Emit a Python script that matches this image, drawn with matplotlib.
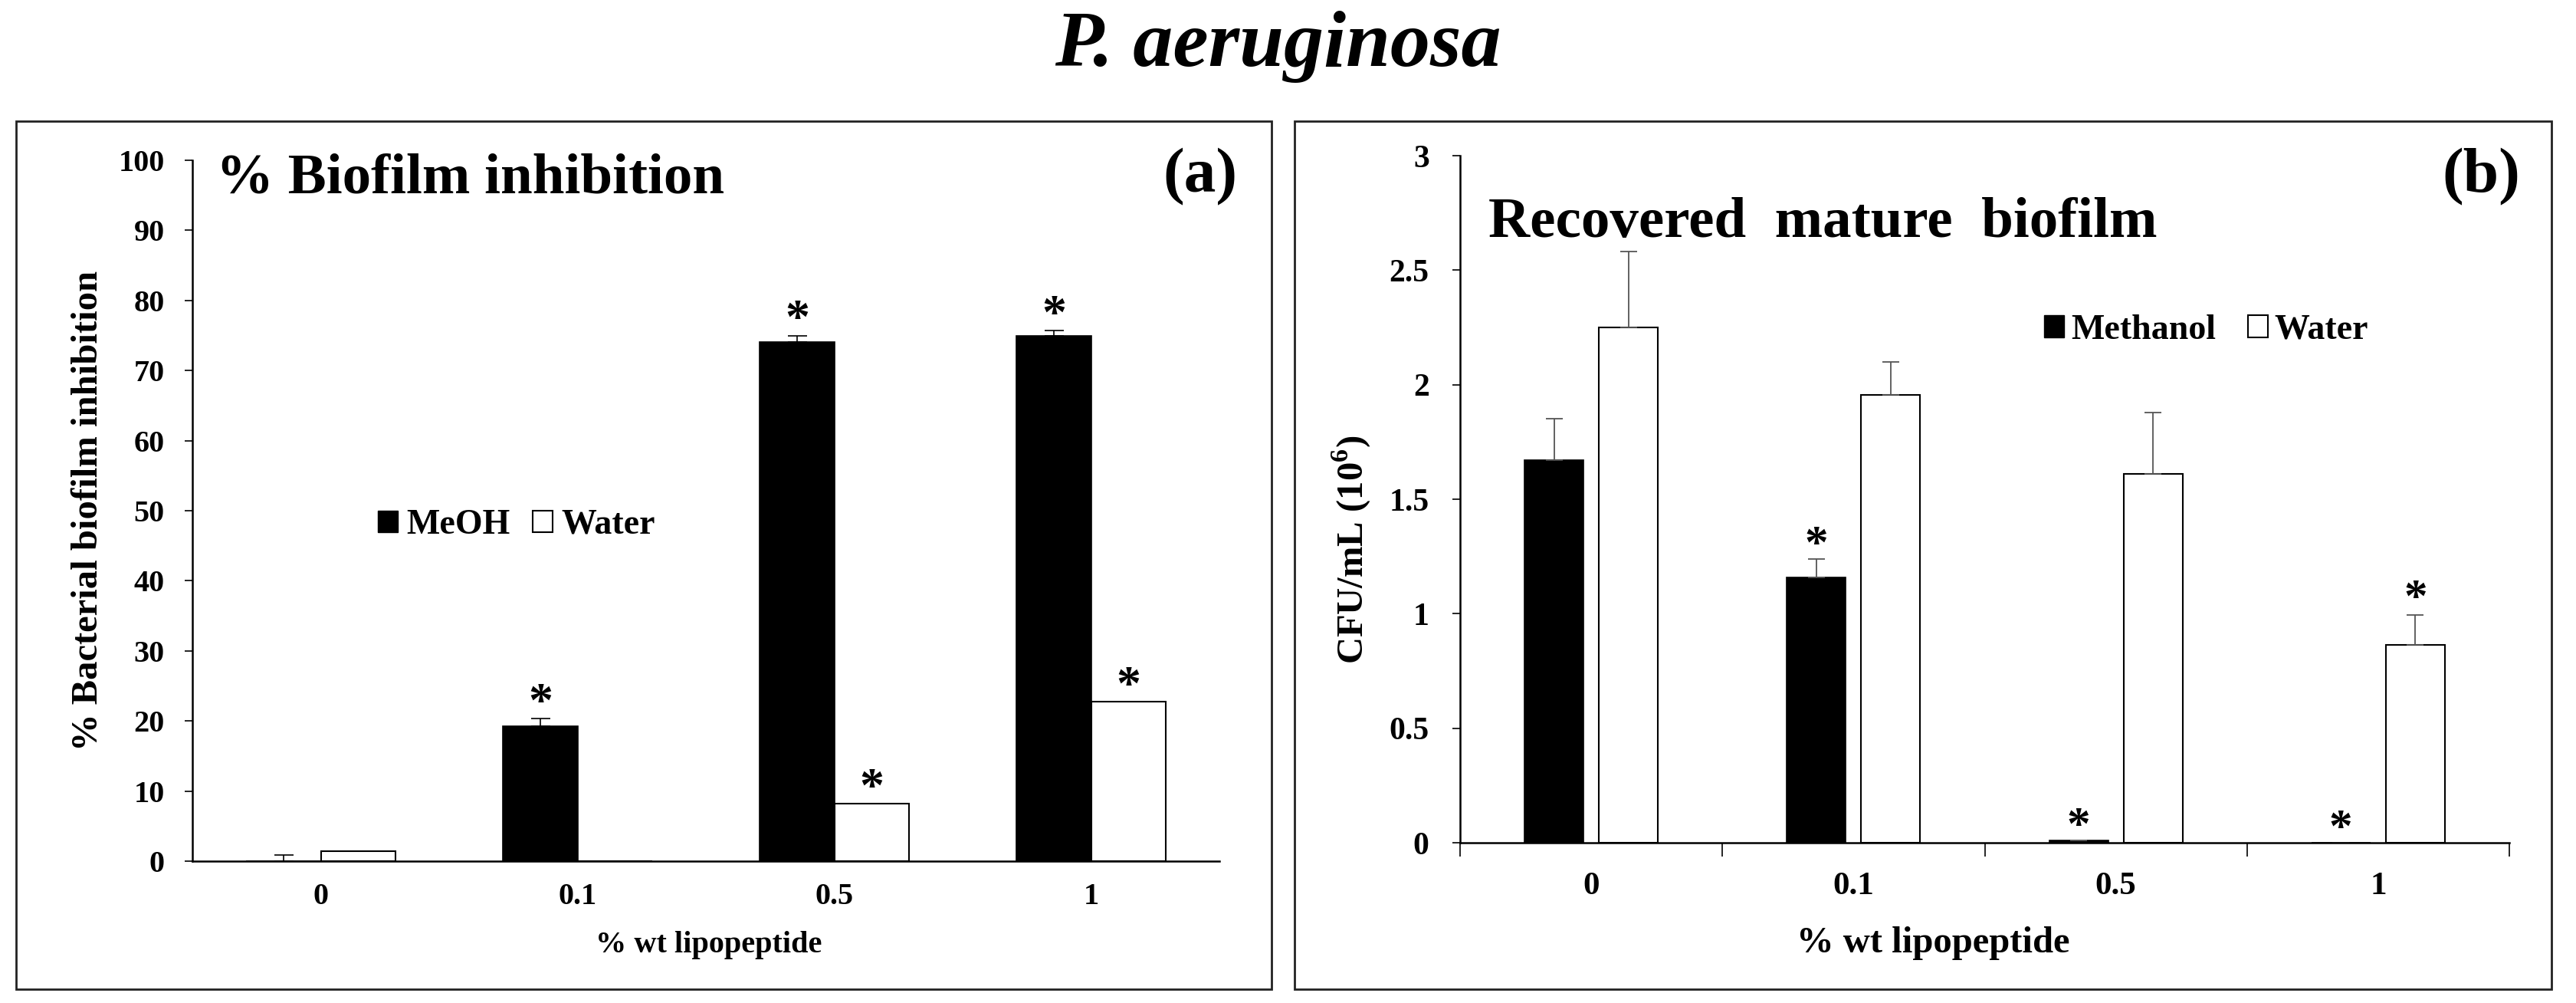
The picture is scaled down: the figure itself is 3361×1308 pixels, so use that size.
import matplotlib
matplotlib.use("Agg")
import matplotlib.pyplot as plt
from matplotlib.patches import Rectangle, Patch
import numpy as np

plt.rcParams['font.family'] = 'serif'
plt.rcParams['font.serif'] = ['Liberation Serif']
plt.rcParams['font.weight'] = 'bold'
plt.rcParams['axes.labelweight'] = 'bold'
plt.rcParams['mathtext.fontset'] = 'custom'
plt.rcParams['mathtext.rm'] = 'Liberation Serif:bold'
plt.rcParams['mathtext.bf'] = 'Liberation Serif:bold'

# data
conc = ['0', '0.1', '0.5', '1']

inhib_meoh = [0.0, 19.3, 74.1, 74.9]
inhib_meoh_err = [0.9, 1.0, 0.9, 0.8]
inhib_water = [1.4, 0.0, 8.2, 22.8]
inhib_meoh_sig = [False, True, True, True]
inhib_water_sig = [False, False, True, True]

cfu_meoh = [1.67, 1.16, 0.01, 0.0]
cfu_meoh_err = [0.18, 0.08, 0.0, 0.0]
cfu_water = [2.25, 1.955, 1.61, 0.865]
cfu_water_err = [0.33, 0.145, 0.27, 0.13]
cfu_meoh_sig = [False, True, True, True]
cfu_water_sig = [False, False, False, True]

W, H = 3361, 1308
fig = plt.figure(figsize=(W / 100, H / 100), dpi=100)


def fx(px):
    return px / W


def fy(py):
    return 1 - py / H


# panel frames
for x0, x1 in [(21, 1659), (1689, 3329)]:
    fig.patches.append(Rectangle((fx(x0), fy(1290)), fx(x1 - x0), (1290 - 158) / H,
                                 transform=fig.transFigure, fill=False,
                                 edgecolor='#222222', linewidth=2))

fig.text(fx(1667), fy(86), 'P. aeruginosa', ha='center', va='baseline',
         fontsize=75, style='italic', weight='bold')

x = np.arange(len(conc))

# ---- (a) biofilm inhibition
ax1 = fig.add_axes([fx(251), fy(1123), fx(1591 - 251), (1123 - 209) / H])
bw = 0.29
ax1.bar(x - bw / 2, inhib_meoh, bw, color='black', edgecolor='black', linewidth=1.2)
ax1.errorbar(x - bw / 2, inhib_meoh, yerr=[np.zeros(4), inhib_meoh_err], fmt='none',
             ecolor='black', elinewidth=1.2, capsize=9, capthick=1.2)
ax1.bar(x + bw / 2, inhib_water, bw, color='white', edgecolor='black', linewidth=1.5)
for i in range(4):
    if inhib_meoh_sig[i]:
        ax1.annotate('*', (x[i] - bw / 2, inhib_meoh[i] + inhib_meoh_err[i]),
                     xytext=(0, 13), textcoords='offset points', ha='center',
                     va='center', fontsize=46, weight='bold')
    if inhib_water_sig[i]:
        ax1.annotate('*', (x[i] + bw / 2, inhib_water[i]),
                     xytext=(0, 13), textcoords='offset points', ha='center',
                     va='center', fontsize=46, weight='bold')
ax1.set_xlim(-0.5, 3.5)
ax1.set_ylim(0, 100)
ax1.set_yticks(range(0, 101, 10))
ax1.set_xticks(x)
ax1.set_xticklabels(conc)
ax1.tick_params(axis='y', direction='out', length=7, width=1.2, labelsize=29, pad=19)
ax1.tick_params(axis='x', length=0, labelsize=29, pad=20)
for s in ['top', 'right']:
    ax1.spines[s].set_visible(False)
for s in ['left', 'bottom']:
    ax1.spines[s].set_linewidth(1.8)
ax1.set_ylabel('% Bacterial biofilm inhibition', fontsize=35, va='center')
ax1.yaxis.set_label_coords(-0.1015, 0.5)
ax1.set_xlabel('% wt lipopeptide', fontsize=29, va='center')
ax1.xaxis.set_label_coords(0.503, -0.120)
fig.text(fx(282), fy(252), '% Biofilm inhibition', fontsize=54, ha='left', va='baseline')
fig.text(fx(1566), fy(231), '(a)', fontsize=60, ha='center', va='center')
ax1.legend(handles=[Patch(facecolor='black', edgecolor='black', label='MeOH'),
                    Patch(facecolor='white', edgecolor='black', linewidth=1.5, label='Water')],
           loc='center left', bbox_to_anchor=(fx(493), fy(685)), bbox_transform=fig.transFigure,
           ncol=2, frameon=False, fontsize=33, handlelength=0.57, handleheight=0.57,
           handletextpad=0.24, columnspacing=0.65, borderpad=0, borderaxespad=0)

# ---- (b) recovered mature biofilm
ax2 = fig.add_axes([fx(1905), fy(1099), fx(3274 - 1905), (1099 - 203) / H])
bw2 = 0.225
off = 0.142
ax2.bar(x - off, cfu_meoh, bw2, color='black', edgecolor='black', linewidth=1.2)
ax2.errorbar(x - off, cfu_meoh, yerr=[np.zeros(4), cfu_meoh_err], fmt='none',
             ecolor='#555555', elinewidth=1.3, capsize=8, capthick=1.3)
ax2.bar(x + off, cfu_water, bw2, color='white', edgecolor='black', linewidth=1.5)
ax2.errorbar(x + off, cfu_water, yerr=[np.zeros(4), cfu_water_err], fmt='none',
             ecolor='#555555', elinewidth=1.3, capsize=8, capthick=1.3)
for i in range(4):
    if cfu_meoh_sig[i]:
        ax2.annotate('*', (x[i] - off, cfu_meoh[i] + cfu_meoh_err[i]),
                     xytext=(0, 12), textcoords='offset points', ha='center',
                     va='center', fontsize=44, weight='bold')
    if cfu_water_sig[i]:
        ax2.annotate('*', (x[i] + off, cfu_water[i] + cfu_water_err[i]),
                     xytext=(0, 14), textcoords='offset points', ha='center',
                     va='center', fontsize=44, weight='bold')
ax2.set_xlim(-0.5, 3.5)
ax2.set_ylim(0, 3)
ax2.set_yticks(np.arange(0, 3.01, 0.5))
ax2.set_yticklabels(['0', '0.5', '1', '1.5', '2', '2.5', '3'])
ax2.set_xticks(np.arange(-0.5, 3.6, 1))
ax2.set_xticklabels([])
ax2.set_xticks(x, minor=True)
ax2.set_xticklabels(conc, minor=True)
ax2.tick_params(axis='x', which='major', direction='out', length=13, width=1.2)
ax2.tick_params(axis='x', which='minor', length=0, labelsize=31, pad=27)
ax2.tick_params(axis='y', direction='out', length=7, width=1.2, labelsize=30, pad=22)
for s in ['top', 'right']:
    ax2.spines[s].set_visible(False)
for s in ['left', 'bottom']:
    ax2.spines[s].set_linewidth(1.8)
ax2.set_ylabel(r'CFU/mL (10$^{6}$)', fontsize=35, va='center')
ax2.yaxis.set_label_coords(-0.1037, 0.426)
ax2.set_xlabel('% wt lipopeptide', fontsize=35, va='center')
ax2.xaxis.set_label_coords(0.451, -0.146)
fig.text(fx(1942), fy(309), 'Recovered  mature  biofilm', fontsize=54, ha='left', va='baseline')
fig.text(fx(3237), fy(231), '(b)', fontsize=60, ha='center', va='center')
ax2.legend(handles=[Patch(facecolor='black', edgecolor='black', label='Methanol'),
                    Patch(facecolor='white', edgecolor='black', linewidth=1.5, label='Water')],
           loc='center left', bbox_to_anchor=(fx(2667), fy(431)), bbox_transform=fig.transFigure,
           ncol=2, frameon=False, fontsize=33, handlelength=0.57, handleheight=0.6,
           handletextpad=0.2, columnspacing=0.9, borderpad=0, borderaxespad=0)

fig.savefig('out.png', dpi=100)
